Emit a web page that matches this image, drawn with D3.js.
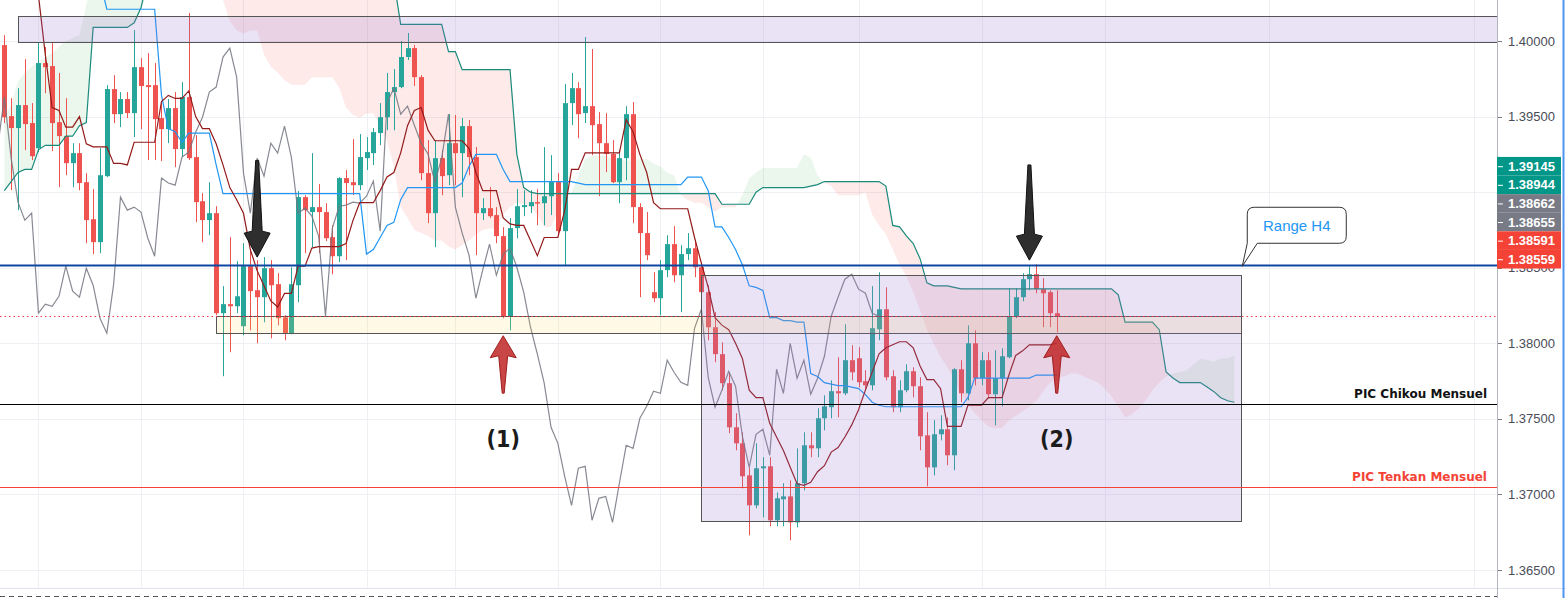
<!DOCTYPE html>
<html>
<head>
<meta charset="utf-8">
<script src="https://cdn.jsdelivr.net/npm/d3@7"></script>
<style>
  body { margin: 0; background: #fff; overflow: hidden; }
  svg { display: block; }
</style>
</head>
<body>
<svg id="chart" width="1566" height="598"></svg>
<script>
// candles (4H), index 0..154
const open = [1.39973,1.39503,1.39424,1.39576,1.39457,1.39291,1.39854,1.39834,1.39463,1.39371,
1.39192,1.39258,1.39066,1.38821,1.38669,1.39106,1.39682,1.39516,1.39616,1.39523,
1.39827,1.39708,1.39708,1.39490,1.39417,1.39556,1.39285,1.39629,1.39232,1.38940,
1.38815,1.38861,1.38199,1.38259,1.38245,1.38113,1.38510,1.38351,1.38305,1.38497,
1.38391,1.38172,1.38067,1.38384,1.38967,1.38868,1.38901,1.38868,1.38702,1.38576,
1.39093,1.39066,1.39046,1.39225,1.39258,1.39391,1.39496,1.39662,1.39695,1.39894,
1.39953,1.39761,1.39126,1.38861,1.39225,1.39112,1.39324,1.39258,1.39437,1.39232,
1.38861,1.38894,1.38848,1.38709,1.38179,1.38762,1.38901,1.38907,1.38934,1.38927,
1.38973,1.39073,1.38742,1.39589,1.39688,1.39523,1.39569,1.39450,1.39324,1.39252,
1.39066,1.39225,1.39516,1.38901,1.38729,1.38338,1.38298,1.38484,1.38656,1.38450,
1.38590,1.38629,1.38503,1.38338,1.38106,1.37928,1.37736,1.37444,1.37338,1.37126,
1.36928,1.37173,1.37186,1.36829,1.36968,1.36987,1.36815,1.37074,1.37325,1.37305,
1.37504,1.37577,1.37683,1.37669,1.37888,1.37901,1.37749,1.37722,1.38093,1.38225,
1.37782,1.37577,1.37689,1.37815,1.37716,1.37391,1.37179,1.37398,1.37431,1.37259,
1.37828,1.37669,1.38000,1.37769,1.37888,1.37663,1.37769,1.37908,1.38179,1.38305,
1.38424,1.38457,1.38358,1.38338,1.38199];
const high = [1.40039,1.39622,1.39688,1.39880,1.39589,1.39993,1.39960,1.39986,1.39788,1.39622,
1.39324,1.39324,1.39126,1.39020,1.39291,1.39708,1.39774,1.39662,1.39662,1.40072,
1.39887,1.39920,1.39854,1.39589,1.39616,1.39662,1.39728,1.40185,1.39377,1.38993,
1.39066,1.38907,1.38378,1.38702,1.38543,1.38662,1.38616,1.38550,1.38570,1.38550,
1.38464,1.38186,1.38503,1.39007,1.38980,1.39258,1.39053,1.38927,1.38781,1.39099,
1.39146,1.39351,1.39384,1.39364,1.39424,1.39589,1.39788,1.39814,1.40000,1.40053,
1.39973,1.39774,1.39344,1.39344,1.39278,1.39516,1.39510,1.39490,1.39477,1.39298,
1.38960,1.39033,1.38901,1.38768,1.38828,1.39020,1.39013,1.39013,1.39020,1.39298,
1.39245,1.39126,1.39715,1.39788,1.39728,1.40026,1.39947,1.39530,1.39523,1.39344,
1.39278,1.39569,1.39596,1.38927,1.38868,1.38470,1.38550,1.38715,1.38775,1.38649,
1.38729,1.38682,1.38537,1.38384,1.38206,1.38007,1.37808,1.37537,1.37411,1.37179,
1.37338,1.37246,1.37246,1.37014,1.37074,1.37093,1.37305,1.37411,1.37411,1.37570,
1.37656,1.37755,1.37908,1.38126,1.37987,1.37974,1.37822,1.38378,1.38470,1.38371,
1.37822,1.37755,1.37861,1.37841,1.37775,1.37544,1.37491,1.37524,1.37510,1.37835,
1.37888,1.38119,1.38086,1.37941,1.37941,1.37954,1.37967,1.38364,1.38364,1.38464,
1.38510,1.38523,1.38431,1.38351,1.38351];
const low = [1.39457,1.39013,1.38881,1.39278,1.39212,1.39265,1.39655,1.39271,1.39033,1.39112,
1.39033,1.39013,1.38662,1.38590,1.38596,1.39099,1.39457,1.39430,1.39490,1.39364,
1.39417,1.39212,1.39212,1.39205,1.39324,1.39165,1.39232,1.39212,1.38801,1.38669,
1.38715,1.38186,1.37782,1.37941,1.38199,1.38053,1.38086,1.38000,1.38139,1.38033,
1.38119,1.38020,1.38060,1.38272,1.38596,1.38636,1.38596,1.38676,1.38457,1.38537,
1.38550,1.38980,1.39013,1.39146,1.39179,1.39311,1.39410,1.39410,1.39688,1.39874,
1.39702,1.39079,1.38795,1.38636,1.38980,1.39046,1.39046,1.38967,1.39112,1.38583,
1.38815,1.38828,1.38662,1.38166,1.38086,1.38695,1.38841,1.38861,1.38781,1.38781,
1.38848,1.38715,1.38517,1.39443,1.39357,1.39457,1.39245,1.38973,1.39132,1.39060,
1.38927,1.39079,1.38795,1.38305,1.38550,1.38272,1.38186,1.38437,1.38404,1.38206,
1.38550,1.38437,1.38219,1.38020,1.37875,1.37689,1.37405,1.37292,1.37040,1.36729,
1.36908,1.36848,1.36789,1.36789,1.36789,1.36696,1.36782,1.37027,1.37246,1.37246,
1.37424,1.37504,1.37510,1.37656,1.37755,1.37709,1.37689,1.37689,1.38020,1.37755,
1.37544,1.37544,1.37676,1.37643,1.37292,1.37054,1.37126,1.37358,1.37193,1.37160,
1.37610,1.37623,1.37722,1.37722,1.37636,1.37457,1.37583,1.37901,1.38166,1.38278,
1.38351,1.38331,1.38106,1.38106,1.38073];
const close = [1.39496,1.39424,1.39576,1.39450,1.39238,1.39854,1.39827,1.39457,1.39371,1.39192,
1.39258,1.39060,1.38815,1.38669,1.39112,1.39682,1.39516,1.39616,1.39523,1.39827,
1.39702,1.39695,1.39483,1.39417,1.39556,1.39285,1.39629,1.39225,1.38934,1.38815,
1.38861,1.38199,1.38259,1.38245,1.38311,1.38510,1.38345,1.38305,1.38497,1.38384,
1.38166,1.38067,1.38391,1.38967,1.38881,1.38901,1.38868,1.38695,1.38576,1.39093,
1.39060,1.39046,1.39232,1.39265,1.39397,1.39496,1.39662,1.39695,1.39894,1.39953,
1.39761,1.39126,1.38861,1.39225,1.39106,1.39324,1.39258,1.39437,1.39232,1.38861,
1.38894,1.38841,1.38709,1.38179,1.38762,1.38907,1.38914,1.38934,1.38927,1.38973,
1.39073,1.38742,1.39589,1.39688,1.39516,1.39569,1.39443,1.39324,1.39252,1.39066,
1.39225,1.39516,1.38901,1.38729,1.38583,1.38298,1.38484,1.38656,1.38450,1.38590,
1.38629,1.38503,1.38338,1.38106,1.37928,1.37736,1.37444,1.37338,1.37120,1.36928,
1.37173,1.37186,1.36829,1.36974,1.36987,1.36815,1.37074,1.37325,1.37305,1.37504,
1.37583,1.37683,1.37669,1.37888,1.37808,1.37742,1.37722,1.38100,1.38225,1.37775,
1.37577,1.37689,1.37815,1.37716,1.37385,1.37179,1.37398,1.37431,1.37259,1.37828,
1.37669,1.38000,1.37769,1.37888,1.37663,1.37769,1.37914,1.38179,1.38305,1.38424,
1.38457,1.38358,1.38331,1.38199,1.38179];

// ichimoku lines
const tenkan = [1.4050,1.4050,1.4050,1.4050,1.4050,1.4030,1.3991,1.3956,1.3954,1.3943,
1.3943,1.3950,1.3932,1.3930,1.3930,1.3930,1.3919,1.3919,1.3918,1.3933,
1.3933,1.3933,1.3933,1.3960,1.3964,1.3962,1.3962,1.3967,1.3950,1.3942,
1.3942,1.3932,1.3918,1.3903,1.3895,1.3886,1.3862,1.3848,1.3838,1.3828,
1.3824,1.3833,1.3833,1.3851,1.3851,1.3863,1.3864,1.3864,1.3864,1.3864,
1.3866,1.3881,1.3893,1.3893,1.3893,1.3901,1.3910,1.3913,1.3926,1.3944,
1.3954,1.3956,1.3941,1.3934,1.3934,1.3934,1.3934,1.3934,1.3929,1.3913,
1.3901,1.3901,1.3901,1.3883,1.3879,1.3878,1.3878,1.3868,1.3858,1.3870,
1.3870,1.3870,1.3888,1.3915,1.3915,1.3926,1.3926,1.3926,1.3926,1.3926,
1.3926,1.3948,1.3940,1.3925,1.3913,1.3893,1.3889,1.3889,1.3889,1.3889,
1.3889,1.3870,1.3853,1.3837,1.3817,1.3812,1.3809,1.3800,1.3790,1.3769,
1.3764,1.3764,1.3747,1.3738,1.3729,1.3718,1.3707,1.3706,1.3708,1.3715,
1.3719,1.3728,1.3731,1.3738,1.3746,1.3756,1.3769,1.3781,1.3793,1.3797,
1.3799,1.3801,1.3801,1.3797,1.3785,1.3776,1.3776,1.3770,1.3745,1.3745,
1.3745,1.3759,1.3759,1.3759,1.3764,1.3764,1.3764,1.3779,1.3792,1.3795,
1.3799,1.3799,1.3799,1.3799,1.3800];
const kijun = [1.4040,1.4040,1.4040,1.4040,1.4040,1.4040,1.4040,1.4040,1.4040,1.4040,
1.4040,1.4040,1.4040,1.4040,1.4040,1.4021,1.4021,1.4021,1.4021,1.4021,
1.4021,1.4021,1.4021,1.3964,1.3942,1.3940,1.3933,1.3939,1.3939,1.3939,
1.3939,1.3918,1.3899,1.3899,1.3899,1.3899,1.3899,1.3899,1.3899,1.3899,
1.3899,1.3899,1.3899,1.3899,1.3899,1.3899,1.3899,1.3899,1.3899,1.3899,
1.3899,1.3899,1.3899,1.3859,1.3862,1.3870,1.3878,1.3880,1.3895,1.3903,
1.3903,1.3903,1.3903,1.3903,1.3903,1.3903,1.3903,1.3906,1.3917,1.3925,
1.3925,1.3925,1.3925,1.3915,1.3907,1.3907,1.3907,1.3907,1.3907,1.3907,
1.3907,1.3907,1.3907,1.3907,1.3906,1.3905,1.3905,1.3905,1.3905,1.3905,
1.3905,1.3905,1.3905,1.3905,1.3905,1.3905,1.3905,1.3905,1.3905,1.3905,
1.3910,1.3910,1.3910,1.3901,1.3877,1.3877,1.3870,1.3862,1.3852,1.3838,
1.3837,1.3835,1.3817,1.3817,1.3815,1.3815,1.3814,1.3814,1.3780,1.3778,
1.3774,1.3773,1.3772,1.3772,1.3771,1.3770,1.3766,1.3761,1.3759,1.3758,
1.3758,1.3758,1.3758,1.3758,1.3758,1.3758,1.3758,1.3758,1.3758,1.3758,
1.3758,1.3764,1.3777,1.3777,1.3777,1.3777,1.3777,1.3777,1.3777,1.3777,
1.3777,1.3779,1.3779,1.3779,1.3779];
// leading spans, index 0..180 (26 bars ahead of the last candle)
const senkouA = [1.3949,1.3958,1.3973,1.3979,1.3983,1.3987,1.3989,1.3992,1.3996,1.4000,
1.4002,1.4004,1.4024,1.4040,1.4040,1.4040,1.4040,1.4040,1.4040,1.4040,
1.4040,1.4040,1.4040,1.4040,1.4040,1.4040,1.4040,1.4040,1.4040,1.4040,
1.4040,1.4040,1.4027,1.4013,1.4007,1.4005,1.4007,1.4007,1.3991,1.3983,
1.3979,1.3974,1.3971,1.3971,1.3971,1.3976,1.3976,1.3976,1.3976,1.3969,
1.3956,1.3951,1.3949,1.3952,1.3952,1.3944,1.3934,1.3917,1.3890,1.3883,
1.3875,1.3873,1.3871,1.3868,1.3868,1.3864,1.3862,1.3865,1.3868,1.3872,
1.3875,1.3876,1.3876,1.3885,1.3890,1.3893,1.3892,1.3890,1.3885,1.3877,
1.3877,1.3887,1.3895,1.3900,1.3911,1.3922,1.3924,1.3924,1.3924,1.3922,
1.3922,1.3921,1.3921,1.3922,1.3922,1.3919,1.3917,1.3913,1.3911,1.3898,
1.3895,1.3893,1.3893,1.3890,1.3887,1.3890,1.3890,1.3890,1.3898,1.3909,
1.3913,1.3916,1.3916,1.3916,1.3916,1.3916,1.3916,1.3925,1.3923,1.3911,
1.3906,1.3904,1.3898,1.3898,1.3898,1.3898,1.3900,1.3885,1.3878,1.3872,
1.3862,1.3852,1.3844,1.3834,1.3822,1.3809,1.3800,1.3791,1.3784,1.3776,
1.3767,1.3759,1.3754,1.3749,1.3745,1.3744,1.3744,1.3749,1.3752,1.3755,
1.3758,1.3762,1.3768,1.3774,1.3777,1.3778,1.3780,1.3780,1.3778,1.3776,
1.3774,1.3770,1.3765,1.3758,1.3751,1.3753,1.3757,1.3762,1.3769,1.3774,
1.3778,1.3780,1.3781,1.3782,1.3786,1.3790,1.3789,1.3788,1.3790,1.3790,
1.3792];
const senkouB = [1.3901,1.3907,1.3913,1.3915,1.3915,1.3928,1.3931,1.3931,1.3931,1.3937,
1.3937,1.3944,1.3946,1.4009,1.4009,1.4009,1.4009,1.4009,1.4009,1.4012,
1.4022,1.4040,1.4040,1.4040,1.4040,1.4040,1.4040,1.4040,1.4040,1.4040,
1.4040,1.4040,1.4040,1.4040,1.4040,1.4040,1.4040,1.4040,1.4040,1.4040,
1.4040,1.4040,1.4040,1.4040,1.4040,1.4040,1.4040,1.4040,1.4040,1.4040,
1.4040,1.4040,1.4040,1.4040,1.4040,1.4040,1.4040,1.4040,1.4011,1.4011,
1.4011,1.4011,1.4011,1.4011,1.4011,1.3993,1.3993,1.3981,1.3981,1.3981,
1.3981,1.3981,1.3981,1.3981,1.3981,1.3925,1.3903,1.3900,1.3899,1.3899,
1.3899,1.3899,1.3899,1.3899,1.3899,1.3899,1.3899,1.3899,1.3899,1.3899,
1.3899,1.3899,1.3899,1.3899,1.3899,1.3899,1.3899,1.3899,1.3899,1.3899,
1.3899,1.3899,1.3899,1.3899,1.3899,1.3892,1.3892,1.3892,1.3892,1.3892,
1.3900,1.3903,1.3903,1.3903,1.3903,1.3903,1.3903,1.3903,1.3904,1.3905,
1.3907,1.3907,1.3907,1.3907,1.3907,1.3907,1.3907,1.3907,1.3907,1.3904,
1.3878,1.3877,1.3871,1.3866,1.3856,1.3840,1.3838,1.3838,1.3838,1.3837,
1.3836,1.3836,1.3836,1.3836,1.3836,1.3836,1.3836,1.3836,1.3836,1.3836,
1.3836,1.3836,1.3836,1.3836,1.3836,1.3836,1.3836,1.3836,1.3836,1.3836,
1.3836,1.3836,1.3836,1.3832,1.3814,1.3814,1.3814,1.3814,1.3814,1.3809,
1.3781,1.3777,1.3774,1.3774,1.3774,1.3774,1.3771,1.3768,1.3764,1.3762,
1.3761];

const priceTicks = [1.365, 1.37, 1.375, 1.38, 1.385, 1.39, 1.395, 1.40];
const timeTicks = [5, 20, 35, 53, 66, 81, 96, 111, 125, 143, 161, 185, 215];

// drawings
const levelH4 = 1.38517;
const levelChikou = 1.37600;
const levelTenkan = 1.37050;
const zoneTop = { i0: 2, i1: 219, hi: 1.40165, lo: 1.39993 };
const zoneYellow = { i0: 31, i1: 181, hi: 1.38179, lo: 1.38067 };
const zoneRange = { i0: 102, i1: 181, hi: 1.38450, lo: 1.36823 };
const downArrows = [{ i: 37, top: 1.3921, tip: 1.3857 }, { i: 150, top: 1.3918, tip: 1.3855 }];
const upArrows = [{ i: 73, tip: 1.3805, bottom: 1.3767 }, { i: 154, tip: 1.3805, bottom: 1.3767 }];
const marks = [{ i: 73, p: 1.3737, text: "(1)" }, { i: 154, p: 1.3737, text: "(2)" }];
const tagValues = [1.39145, 1.38944, 1.38662, 1.38655, 1.38591, 1.38559];
const tagColors = ["#009688", "#009688", "#787b86", "#787b86", "#f44336", "#f44336"];

const svg = d3.select("#chart");
const plotW = 1497, paneH = 588;
const N = close.length;

const x = d3.scaleLinear().domain([-0.63, 218.42]).range([0, plotW]);
const y = d3.scaleLinear().domain([1.365, 1.40]).range([570, 41]);
const bull = "#26a69a", bear = "#ef5350";

const defs = svg.append("defs");
defs.append("clipPath").attr("id", "plotClip")
  .append("rect").attr("x", 0).attr("y", 0).attr("width", plotW).attr("height", paneH);

const idx = d3.range(senkouB.length);
defs.append("clipPath").attr("id", "aboveB")
  .append("path").attr("d", d3.area().x(i => x(i)).y0(-200).y1(i => y(senkouB[i]))(idx));
defs.append("clipPath").attr("id", "belowB")
  .append("path").attr("d", d3.area().x(i => x(i)).y0(i => y(senkouB[i])).y1(900)(idx));

// grid
const grid = svg.append("g");
grid.selectAll("line.h").data(priceTicks).join("line")
  .attr("x1", 0).attr("x2", plotW)
  .attr("y1", d => Math.round(y(d)) + 0.5).attr("y2", d => Math.round(y(d)) + 0.5)
  .attr("stroke", "#eef0f4");
grid.selectAll("line.v").data(timeTicks).join("line")
  .attr("x1", d => Math.round(x(d)) + 0.5).attr("x2", d => Math.round(x(d)) + 0.5)
  .attr("y1", 0).attr("y2", paneH)
  .attr("stroke", "#eef0f4");

const plot = svg.append("g").attr("clip-path", "url(#plotClip)");

// cloud
const cloudArea = d3.area().x(i => x(i)).y0(i => y(senkouA[i])).y1(i => y(senkouB[i]));
plot.append("g").attr("clip-path", "url(#aboveB)")
  .append("path").attr("d", cloudArea(idx)).attr("fill", "rgba(76,175,80,0.11)");
plot.append("g").attr("clip-path", "url(#belowB)")
  .append("path").attr("d", cloudArea(idx)).attr("fill", "rgba(244,67,54,0.11)");

// candles
const cx = i => Math.round(x(i));
plot.selectAll("line.wick").data(d3.range(N)).join("line")
  .attr("x1", i => cx(i) + 0.5).attr("x2", i => cx(i) + 0.5)
  .attr("y1", i => y(high[i])).attr("y2", i => y(low[i]))
  .attr("stroke", i => close[i] >= open[i] ? bull : bear).attr("stroke-width", 1);
plot.selectAll("rect.body").data(d3.range(N)).join("rect")
  .attr("x", i => cx(i) - 2).attr("width", 5)
  .attr("y", i => y(Math.max(open[i], close[i])))
  .attr("height", i => Math.max(1.5, Math.abs(y(open[i]) - y(close[i]))))
  .attr("fill", i => close[i] >= open[i] ? bull : bear);

// ichimoku lines
const line = d3.line().x((d, i) => x(i)).y(d => y(d));
plot.append("path").attr("d", d3.line().x((d, j) => x(j - 26)).y(d => y(d))(close))
  .attr("fill", "none").attr("stroke", "#737680").attr("stroke-width", 1.2).attr("opacity", 0.85);
plot.append("path").attr("d", line(senkouB))
  .attr("fill", "none").attr("stroke", "#1a8a7c").attr("stroke-width", 1.2);
plot.append("path").attr("d", line(kijun))
  .attr("fill", "none").attr("stroke", "#2196f3").attr("stroke-width", 1.2);
plot.append("path").attr("d", line(tenkan))
  .attr("fill", "none").attr("stroke", "#931a1a").attr("stroke-width", 1.2);

// zones
function zone(z, fill) {
  plot.append("rect")
    .attr("x", Math.round(x(z.i0)) + 0.5).attr("y", Math.round(y(z.hi)) + 0.5)
    .attr("width", Math.round(x(z.i1)) - Math.round(x(z.i0)))
    .attr("height", Math.round(y(z.lo)) - Math.round(y(z.hi)))
    .attr("fill", fill).attr("stroke", "#555").attr("stroke-width", 1);
}
zone(zoneTop, "rgba(149,117,205,0.2)");
zone(zoneYellow, "rgba(255,213,79,0.15)");
zone(zoneRange, "rgba(149,117,205,0.2)");

// horizontal levels
const hline = (p, color, w, dash) => plot.append("line")
  .attr("x1", 0).attr("x2", plotW)
  .attr("y1", Math.round(y(p)) + 0.5).attr("y2", Math.round(y(p)) + 0.5)
  .attr("stroke", color).attr("stroke-width", w).attr("stroke-dasharray", dash || null);
hline(close[N - 1], "#f23645", 1, "1.5,3");
hline(levelChikou, "#000", 1);
hline(levelTenkan, "#f44336", 1);
hline(levelH4, "#0d47a1", 2);

plot.append("text").attr("x", 1487).attr("y", y(levelChikou) - 6)
  .attr("text-anchor", "end").attr("font-family", "DejaVu Sans").attr("font-weight", "bold")
  .attr("font-size", 12).attr("fill", "#111").text("PIC Chikou Mensuel");
plot.append("text").attr("x", 1487).attr("y", y(levelTenkan) - 6)
  .attr("text-anchor", "end").attr("font-family", "DejaVu Sans").attr("font-weight", "bold")
  .attr("font-size", 12).attr("fill", "#f44336").text("PIC Tenkan Mensuel");

// arrows
downArrows.forEach(a => {
  const c = x(a.i), t = y(a.top), p = y(a.tip), b = p - 24;
  const pts = [[c - 1.5, t], [c + 1.5, t], [c + 5, b - 2], [c + 13, b], [c, p], [c - 13, b], [c - 5, b - 2]];
  plot.append("path").attr("d", "M" + pts.join("L") + "Z")
    .attr("fill", "#2e2e2e").attr("stroke", "#111").attr("stroke-width", 1).attr("stroke-linejoin", "round");
});
upArrows.forEach(a => {
  const c = x(a.i), p = y(a.tip), bt = y(a.bottom), b = p + 22;
  const pts = [[c, p], [c + 13, b], [c + 4.5, b - 2], [c + 1, bt], [c - 1, bt], [c - 4.5, b - 2], [c - 13, b]];
  plot.append("path").attr("d", "M" + pts.join("L") + "Z")
    .attr("fill", "rgba(192,38,38,0.85)").attr("stroke", "#a11d1d").attr("stroke-width", 1).attr("stroke-linejoin", "round");
});
marks.forEach(m => {
  plot.append("text").attr("x", x(m.i)).attr("y", y(m.p)).attr("dy", "0.36em")
    .attr("text-anchor", "middle").attr("font-family", "DejaVu Sans Condensed, DejaVu Sans")
    .attr("font-weight", "bold").attr("font-size", 23).attr("fill", "#1b1b1b").text(m.text);
});

// "Range H4" callout anchored to the range box corner
{
  const ax = x(zoneRange.i1), ay = y(zoneRange.hi);
  const bx0 = ax + 6, bx1 = ax + 105, by0 = ay - 68, by1 = ay - 32, r = 7;
  const d = `M${bx0},${by1} V${by0 + r} Q${bx0},${by0} ${bx0 + r},${by0} H${bx1 - r} Q${bx1},${by0} ${bx1},${by0 + r}` +
    ` V${by1 - r} Q${bx1},${by1} ${bx1 - r},${by1} H${bx0 + 10} L${ax + 1},${ay - 9} Z`;
  svg.append("path").attr("d", d).attr("fill", "#fff").attr("stroke", "#333").attr("stroke-width", 1);
  svg.append("text").attr("x", (bx0 + bx1) / 2).attr("y", (by0 + by1) / 2).attr("dy", "0.35em")
    .attr("text-anchor", "middle").attr("font-family", "Liberation Sans, Arial").attr("font-size", 15)
    .attr("fill", "#2196f3").text("Range H4");
}

// bottom pane edge
svg.append("line").attr("x1", 0).attr("x2", 1566).attr("y1", paneH + 0.5).attr("y2", paneH + 0.5)
  .attr("stroke", "#dfe2e8");
svg.append("line").attr("x1", 0).attr("x2", plotW).attr("y1", 596.5).attr("y2", 596.5)
  .attr("stroke", "#555").attr("stroke-dasharray", "5,4");

// right price axis
const axisG = svg.append("g");
axisG.append("rect").attr("x", plotW).attr("y", 0).attr("width", 1566 - plotW).attr("height", paneH).attr("fill", "#fff");
axisG.append("line").attr("x1", plotW + 0.5).attr("x2", plotW + 0.5).attr("y1", 0).attr("y2", 598)
  .attr("stroke", "#b2b5be");

// price tags stacked as one block from the first tag down
const tagStep = 18.6;
const tagTop = y(tagValues[0]) - 4;
const tagY = tagValues.map((v, k) => tagTop + k * tagStep);
const blockTop = tagY[0] - tagStep / 2, blockBottom = tagY[tagY.length - 1] + tagStep / 2;
const shownTicks = priceTicks.filter(p => y(p) < blockTop - 2 || y(p) > blockBottom - 1);

axisG.selectAll("line.tick").data(priceTicks).join("line")
  .attr("x1", plotW + 1).attr("x2", plotW + 5)
  .attr("y1", d => Math.round(y(d)) + 0.5).attr("y2", d => Math.round(y(d)) + 0.5)
  .attr("stroke", "#787b86");
axisG.selectAll("text.tick").data(shownTicks).join("text")
  .attr("x", 1508).attr("y", d => y(d)).attr("dy", "0.35em")
  .attr("font-family", "Liberation Sans, Arial").attr("font-size", 13).attr("fill", "#4a4d57")
  .text(d => d.toFixed(5));

const tags = axisG.selectAll("g.tag").data(tagValues).join("g")
  .attr("transform", (d, k) => `translate(0,${tagY[k]})`);
tags.append("rect").attr("x", plotW).attr("y", -tagStep / 2).attr("width", 64).attr("height", tagStep)
  .attr("fill", (d, k) => tagColors[k]);
tags.append("line").attr("x1", plotW + 1).attr("x2", plotW + 6).attr("y1", 0.5).attr("y2", 0.5)
  .attr("stroke", "#fff");
tags.append("text").attr("x", 1508).attr("dy", "0.35em")
  .attr("font-family", "Liberation Sans, Arial").attr("font-weight", "bold").attr("font-size", 13)
  .attr("fill", "#fff").text(d => d.toFixed(5));

svg.append("line").attr("x1", 1563.5).attr("x2", 1563.5).attr("y1", 0).attr("y2", 598)
  .attr("stroke", "#4f95ef").attr("stroke-width", 2);
</script>
</body>
</html>
